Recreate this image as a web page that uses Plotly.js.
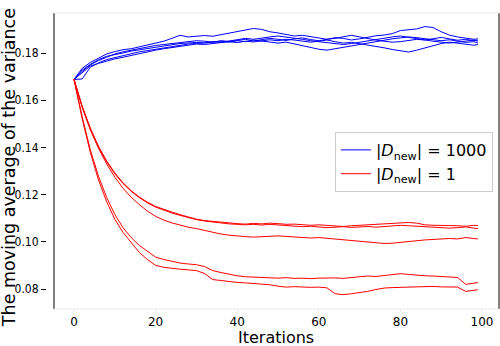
<!DOCTYPE html>
<html>
<head>
<meta charset="utf-8">
<script src="https://cdn.plot.ly/plotly-3.0.1.min.js"></script>
<style>
  html, body { margin: 0; padding: 0; background: #fff; }
  #chart { width: 500px; height: 346px; }
</style>
</head>
<body>
<div id="chart"></div>
<script>
// iterations
const iters = [0, 2, 4, 6, 8, 10, 12, 14, 16, 18, 20, 22, 24, 26, 28, 30, 32, 34, 36, 38,
    40, 42, 44, 46, 48, 50, 52, 54, 56, 58, 60, 62, 64, 66, 68, 70, 72, 74, 76, 78,
    80, 82, 84, 86, 88, 90, 92, 94, 96, 98, 99];

// |D_new| = 1000 runs (blue)
const big1 = [.1688, .1722, .1750, .1768, .1782, .1796, .1805, .1812, .1818, .1825,
    .1832, .1836, .1840, .1845, .1848, .1852, .1850, .1846, .1852, .1849,
    .1853, .1858, .1851, .1855, .1862, .1858, .1853, .1860, .1864, .1857,
    .1852, .1858, .1865, .1862, .1855, .1860, .1868, .1873, .1876, .1882,
    .1895, .1898, .1902, .1912, .1908, .1890, .1876, .1868, .1862, .1858, .1860];
const big2 = [.1688, .1735, .1760, .1778, .1796, .1806, .1814, .1818, .1826, .1834,
    .1842, .1850, .1862, .1875, .1868, .1870, .1874, .1871, .1878, .1884,
    .1889, .1897, .1904, .1900, .1890, .1885, .1878, .1872, .1875, .1870,
    .1864, .1858, .1862, .1870, .1875, .1868, .1860, .1855, .1850, .1846,
    .1848, .1853, .1858, .1855, .1862, .1866, .1860, .1854, .1858, .1852, .1855];
const big3 = [.1688, .1690, .1740, .1758, .1772, .1780, .1790, .1798, .1805, .1810,
    .1816, .1822, .1828, .1832, .1838, .1840, .1842, .1845, .1850, .1846,
    .1852, .1848, .1855, .1850, .1845, .1842, .1846, .1838, .1830, .1822,
    .1816, .1812, .1818, .1825, .1830, .1838, .1845, .1850, .1857, .1860,
    .1864, .1868, .1865, .1860, .1856, .1852, .1856, .1850, .1845, .1848, .1842];
const big4 = [.1688, .1715, .1745, .1756, .1766, .1775, .1782, .1790, .1798, .1806,
    .1812, .1818, .1823, .1828, .1833, .1838, .1836, .1840, .1843, .1848,
    .1844, .1850, .1847, .1852, .1856, .1852, .1858, .1855, .1850, .1846,
    .1850, .1855, .1848, .1842, .1845, .1840, .1834, .1828, .1822, .1815,
    .1808, .1804, .1812, .1822, .1832, .1840, .1846, .1842, .1838, .1833, .1836];
const big5 = [.1688, .1728, .1752, .1772, .1786, .1792, .1800, .1808, .1814, .1820,
    .1826, .1831, .1835, .1840, .1843, .1845, .1843, .1848, .1845, .1850,
    .1856, .1862, .1858, .1864, .1868, .1872, .1868, .1864, .1858, .1852,
    .1848, .1846, .1840, .1836, .1840, .1846, .1852, .1858, .1863, .1868,
    .1872, .1866, .1860, .1856, .1850, .1846, .1842, .1846, .1852, .1855, .1850];

// |D_new| = 1 runs (red)
const one1 = [.1688, .1575, .1482, .1405, .1343, .1292, .1250, .1217, .1190, .1168,
    .1150, .1137, .1126, .1115, .1104, .1096, .1090, .1086, .1082, .1078,
    .1077, .1075, .1078, .1076, .1079, .1077, .1074, .1075, .1072, .1070,
    .1072, .1069, .1066, .1065, .1068, .1070, .1073, .1076, .1079, .1081,
    .1080, .1082, .1079, .1072, .1070, .1071, .1069, .1068, .1066, .1070, .1069];
const one2 = [.1688, .1572, .1478, .1401, .1339, .1288, .1247, .1214, .1187, .1165,
    .1147, .1134, .1122, .1112, .1102, .1094, .1088, .1083, .1079, .1076,
    .1074, .1072, .1074, .1071, .1074, .1072, .1070, .1066, .1064, .1066,
    .1064, .1060, .1062, .1064, .1061, .1063, .1065, .1062, .1064, .1067,
    .1070, .1068, .1066, .1062, .1060, .1061, .1058, .1060, .1063, .1058, .1056];
const one3 = [.1688, .1570, .1474, .1396, .1330, .1274, .1227, .1189, .1158, .1130,
    .1108, .1092, .1080, .1070, .1062, .1056, .1048, .1040, .1033, .1028,
    .1024, .1022, .1020, .1022, .1024, .1025, .1023, .1021, .1019, .1016,
    .1018, .1015, .1010, .1006, .1003, .1000, .0998, .0995, .0993, .0994,
    .0998, .1002, .1005, .1008, .1010, .1012, .1014, .1012, .1018, .1014, .1012];
const one4 = [.1688, .1530, .1390, .1278, .1188, .1116, .1060, .1018, .0985, .0958,
    .0935, .0925, .0917, .0910, .0906, .0903, .0895, .0878, .0870, .0862,
    .0856, .0852, .0850, .0848, .0849, .0846, .0848, .0845, .0846, .0844,
    .0846, .0848, .0847, .0845, .0850, .0852, .0855, .0853, .0857, .0862,
    .0865, .0862, .0858, .0856, .0855, .0853, .0852, .0849, .0820, .0826, .0827];
const one5 = [.1688, .1522, .1378, .1262, .1170, .1096, .1040, .0996, .0955, .0925,
    .0900, .0892, .0887, .0884, .0881, .0878, .0866, .0840, .0836, .0831,
    .0828, .0826, .0824, .0822, .0818, .0812, .0808, .0810, .0808, .0807,
    .0808, .0805, .0780, .0776, .0780, .0784, .0790, .0798, .0804, .0806,
    .0807, .0810, .0808, .0810, .0811, .0809, .0810, .0808, .0790, .0796, .0797];

const yTicks = [0.08, 0.10, 0.12, 0.14, 0.16, 0.18];
const xTicks = [0, 20, 40, 60, 80, 100];

const bigRuns = [big1, big2, big3, big4, big5];
const oneRuns = [one1, one2, one3, one4, one5];

const makeTrace = (ys, i, color, name, group) => ({
    x: iters,
    y: ys,
    type: 'scatter',
    mode: 'lines',
    line: { color: color, width: 1 },
    name: name,
    legendgroup: group,
    showlegend: i === 0,
    hoverinfo: 'skip'
});

const data = [];
bigRuns.forEach((ys, i) => data.push(makeTrace(ys, i, '#0000ff', '|<i>D</i><sub>new</sub>| = 1000', 'big')));
oneRuns.forEach((ys, i) => data.push(makeTrace(ys, i, '#ff0000', '|<i>D</i><sub>new</sub>| = 1', 'one')));

// left spine sits a little right of the tick marks
const spineX = 7 / 452;

const layout = {
    width: 500,
    height: 346,
    margin: { l: 47, r: 1, t: 13, b: 37, pad: 0 },
    paper_bgcolor: '#fff',
    plot_bgcolor: '#fff',
    font: { family: 'DejaVu Sans', color: '#000', size: 12 },
    xaxis: {
        range: [-6.62, 104.17],
        tickvals: xTicks,
        ticks: 'outside',
        ticklen: 2,
        tickcolor: '#e6e6e6',
        showgrid: false,
        zeroline: false,
        showline: false,
        tickfont: { size: 12 }
    },
    yaxis: {
        range: [0.07153, 0.19695],
        tickvals: yTicks,
        tickformat: '.2f',
        ticks: 'outside',
        ticklen: 5,
        tickcolor: '#000',
        showgrid: false,
        zeroline: false,
        showline: false,
        tickfont: { size: 12, family: 'Liberation Sans Narrow, DejaVu Sans Condensed, DejaVu Sans' }
    },
    annotations: [
        { text: 'Iterations', xref: 'paper', yref: 'paper', x: 0.5077, y: -0.097,
          xanchor: 'center', yanchor: 'middle', showarrow: false, font: { size: 16 } },
        { text: 'The moving average of the variance', xref: 'paper', yref: 'paper', x: -0.084, y: 0.476,
          xanchor: 'center', yanchor: 'middle', textangle: -90, showarrow: false, font: { size: 17.5 } }
    ],
    legend: {
        x: 0.637, y: 0.598, xanchor: 'left', yanchor: 'top',
        bgcolor: '#fff', bordercolor: '#cccccc', borderwidth: 1,
        font: { size: 16 }, tracegroupgap: 0
    },
    shapes: [
        { type: 'line', xref: 'paper', yref: 'paper', x0: spineX, x1: spineX, y0: 0, y1: 1, line: { color: '#000', width: 1 } },
        { type: 'line', xref: 'paper', yref: 'paper', x0: 1, x1: 1, y0: 0, y1: 1, line: { color: '#000', width: 1 } },
        { type: 'line', xref: 'paper', yref: 'paper', x0: spineX, x1: 1, y0: 1, y1: 1, line: { color: '#e8e8e8', width: 1 } },
        { type: 'line', xref: 'paper', yref: 'paper', x0: spineX, x1: 1, y0: 0, y1: 0, line: { color: '#e8e8e8', width: 1 } }
    ],
    showlegend: true
};

Plotly.newPlot('chart', data, layout, { displayModeBar: false, staticPlot: true });
</script>
</body>
</html>
